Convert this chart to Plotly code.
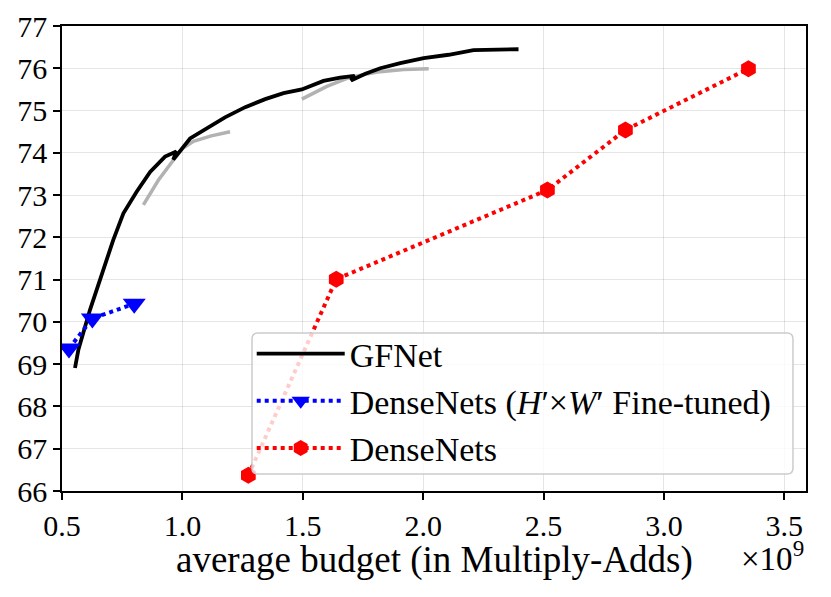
import plotly.graph_objects as go

# budgets in units of 1e9 Multiply-Adds, top-1 accuracy in %
gfnet_x = [0.554, 0.568, 0.616, 0.665, 0.713, 0.755, 0.810, 0.866, 0.928, 0.975,
           0.962, 1.032, 1.101, 1.177, 1.261, 1.344, 1.420, 1.496, 1.586, 1.655,
           1.715, 1.700, 1.760, 1.822, 1.905, 2.002, 2.106, 2.209, 2.396]
gfnet_y = [68.91, 69.34, 70.28, 71.15, 71.94, 72.57, 73.08, 73.55, 73.91, 74.03,
           73.84, 74.34, 74.58, 74.84, 75.08, 75.27, 75.41, 75.50, 75.70, 75.78,
           75.82, 75.71, 75.87, 76.00, 76.12, 76.24, 76.32, 76.43, 76.45]

stage1_x = [0.838, 0.900, 0.963, 1.000, 1.046, 1.120, 1.198]
stage1_y = [72.77, 73.35, 73.83, 74.10, 74.27, 74.40, 74.50]
stage2_x = [1.496, 1.600, 1.697, 1.822, 1.919, 2.023]
stage2_y = [75.27, 75.57, 75.79, 75.92, 75.97, 75.99]

ft_x = [0.529, 0.626, 0.800]
ft_y = [69.37, 70.08, 70.43]

dense_x = [1.274, 1.639, 2.516, 2.840, 3.351]
dense_y = [66.37, 71.01, 73.12, 74.54, 75.99]

x_ticks = [0.5, 1.0, 1.5, 2.0, 2.5, 3.0, 3.5]
y_ticks = list(range(66, 78))

serif = "Liberation Serif"
gray = "rgb(178,178,178)"

fig = go.Figure()
for sx, sy in [(stage1_x, stage1_y), (stage2_x, stage2_y)]:
    fig.add_trace(go.Scatter(x=sx, y=sy, mode="lines", showlegend=False,
                             line=dict(color=gray, width=3.5), hoverinfo="skip"))

fig.add_trace(go.Scatter(x=gfnet_x, y=gfnet_y, mode="lines", name="GFNet",
                         legendgroup="a", line=dict(color="black", width=3.8)))
fig.add_trace(go.Scatter(x=ft_x, y=ft_y, mode="lines+markers",
                         name="DenseNets (<i>H</i>′×<i>W</i>′ Fine-tuned)",
                         legendgroup="b",
                         line=dict(color="blue", width=4, dash="dot"),
                         marker=dict(symbol="triangle-down", size=20, color="blue")))
fig.add_trace(go.Scatter(x=dense_x, y=dense_y, mode="lines+markers", name="DenseNets",
                         legendgroup="c",
                         line=dict(color="red", width=4, dash="dot"),
                         marker=dict(symbol="hexagon", size=17, color="red")))

axis_common = dict(showline=True, linecolor="black", linewidth=1.5, mirror=True,
                   ticks="outside", ticklen=7, tickwidth=1.5, tickcolor="black",
                   showgrid=True, gridcolor="rgba(0,0,0,0.1)", gridwidth=1,
                   zeroline=False, automargin=False,
                   tickfont=dict(family=serif, size=30, color="black"))

# rounded, semi-transparent legend frame (paper coords)
bx0, bx1, by0, by1 = 0.2554, 0.9825, 0.0366, 0.3398
rx, ry = 0.008, 0.013
frame = (f"M {bx0+rx},{by1} L {bx1-rx},{by1} Q {bx1},{by1} {bx1},{by1-ry} "
         f"L {bx1},{by0+ry} Q {bx1},{by0} {bx1-rx},{by0} "
         f"L {bx0+rx},{by0} Q {bx0},{by0} {bx0},{by0+ry} "
         f"L {bx0},{by1-ry} Q {bx0},{by1} {bx0+rx},{by1} Z")

# the page adds an 8 px body margin, so the figure is a little smaller
fig.update_layout(
    width=823, height=589,
    margin=dict(l=54, r=25, t=18, b=106),
    plot_bgcolor="white", paper_bgcolor="white",
    font=dict(family=serif, color="black"),
    xaxis=dict(range=[0.5, 3.59], tickvals=x_ticks, tickformat=".1f", **axis_common),
    yaxis=dict(range=[66, 77], tickvals=y_ticks, **axis_common),
    legend=dict(x=0.255, y=0.357, xanchor="left", yanchor="top",
                bgcolor="rgba(0,0,0,0)", borderwidth=0,
                font=dict(family=serif, size=34, color="black"),
                traceorder="grouped", tracegroupgap=0, itemwidth=88),
    shapes=[dict(type="path", path=frame, xref="paper", yref="paper", layer="above",
                 fillcolor="rgba(255,255,255,0.8)",
                 line=dict(color="#cccccc", width=1.5))],
    annotations=[
        dict(text="average budget (in Multiply-Adds)", xref="paper", yref="paper",
             x=0.5, y=-0.148, xanchor="center", yanchor="middle",
             showarrow=False, font=dict(family=serif, size=37)),
        dict(text="×10<sup>9</sup>", xref="paper", yref="paper",
             x=1.0, y=-0.14, xanchor="right", yanchor="middle",
             showarrow=False, font=dict(family=serif, size=33)),
    ],
)

fig.write_html("out.html")
